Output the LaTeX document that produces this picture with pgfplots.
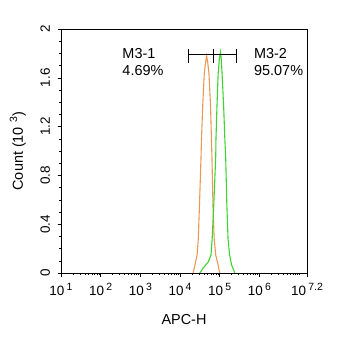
\documentclass[border=0pt]{standalone}
\usepackage{pgfplots}
\pgfplotsset{compat=1.18}
\usepackage{fontspec}
\setmainfont{Liberation Sans}
\definecolor{orangec}{RGB}{236,152,85}
\definecolor{greenc}{RGB}{60,212,45}
\newcommand\tl[1]{10\,\raisebox{0.75ex}{\fontsize{10.5}{10.5}\selectfont #1}}
\begin{document}
\begin{tikzpicture}
\path[use as bounding box] (0,0) rectangle (350bp,339bp);
\begin{axis}[
  at={(61bp,66bp)}, anchor=south west,
  scale only axis, width=246bp, height=244bp,
  xmode=log, log basis x=10,
  xmin=10, xmax=15848932, ymin=0, ymax=2,
  xtick={10,100,1000,10000,100000,1000000,15848932},
  xticklabels={\tl{1},\tl{2},\tl{3},\tl{4},\tl{5},\tl{6},\tl{7.2}},
  minor xtick={20,30,40,50,60,70,80,90,
    200,300,400,500,600,700,800,900,
    2000,3000,4000,5000,6000,7000,8000,9000,
    20000,30000,40000,50000,60000,70000,80000,90000,
    200000,300000,400000,500000,600000,700000,800000,900000,
    2000000,3000000,4000000,5000000,6000000,7000000,8000000,9000000,10000000},
  ytick={0,0.4,0.8,1.2,1.6,2},
  yticklabels={0,0.4,0.8,1.2,1.6,2},
  minor ytick={0.1,0.2,0.3,0.5,0.6,0.7,0.9,1.0,1.1,1.3,1.4,1.5,1.7,1.8,1.9},
  tick align=outside,
  xtick pos=bottom, ytick pos=left,
  major tick length=3.5bp, minor tick length=2bp,
  tick style={black, line width=0.6pt},
  axis line style={line width=0.7pt},
  tick label style={font=\fontsize{13.5}{14}\selectfont},
  yticklabel style={rotate=90, anchor=south},
  yticklabel shift=4bp,
  xticklabel shift=3bp,
  xlabel={APC-H},
  ylabel={Count (10\,\,\raisebox{0.75ex}{\fontsize{10.5}{10.5}\selectfont 3})},
  label style={font=\fontsize{14.5}{15}\selectfont},
  xlabel style={at={(axis description cs:0.5,-0.189)}, anchor=center},
  ylabel style={at={(axis description cs:-0.175,0.5)}, anchor=center, rotate=0},
]
% orange histogram (M3-1 sample)
\addplot[orangec, line width=1.1pt] coordinates {
(21380,0) (23714,0.065) (26915,0.147) (28840,0.28) (30903,0.555)
(33884,0.96) (34674,1.09) (37154,1.36) (40738,1.63) (43652,1.72)
(46774,1.78) (50119,1.72) (53703,1.63) (58884,1.36) (62000,1.09)
(63826,0.94) (67608,0.555) (72444,0.28) (79433,0.147) (91201,0.065) (100000,0)
};
% green histogram
\addplot[greenc, line width=1.1pt] coordinates {
(31623,0) (38019,0.04) (51286,0.09) (60256,0.147) (64565,0.28)
(70795,0.555) (79433,0.96) (80353,1.09) (85114,1.36) (91201,1.63)
(97724,1.75) (104713,1.81) (109648,1.75) (114815,1.63) (125893,1.36)
(134896,1.09) (141254,0.96) (151356,0.555) (162181,0.28) (177828,0.147)
(199526,0.065) (239883,0)
};
% gate bar
\addplot[black, line width=0.9pt] coordinates {(16749,1.788) (266686,1.788)};
\addplot[black, line width=0.9pt] coordinates {(16749,1.725) (16749,1.834)};
\addplot[black, line width=0.9pt] coordinates {(71450,1.725) (71450,1.834)};
\addplot[black, line width=0.9pt] coordinates {(266686,1.725) (266686,1.834)};
\node[anchor=base west, font=\fontsize{14.5}{15}\selectfont] at (axis cs:289,1.761) {M3-1};
\node[anchor=base west, font=\fontsize{14.5}{15}\selectfont] at (axis cs:289,1.616) {4.69\%};
\node[anchor=base west, font=\fontsize{14.5}{15}\selectfont] at (axis cs:600000,1.761) {M3-2};
\node[anchor=base west, font=\fontsize{14.5}{15}\selectfont] at (axis cs:600000,1.616) {95.07\%};
\end{axis}
\end{tikzpicture}
\end{document}
